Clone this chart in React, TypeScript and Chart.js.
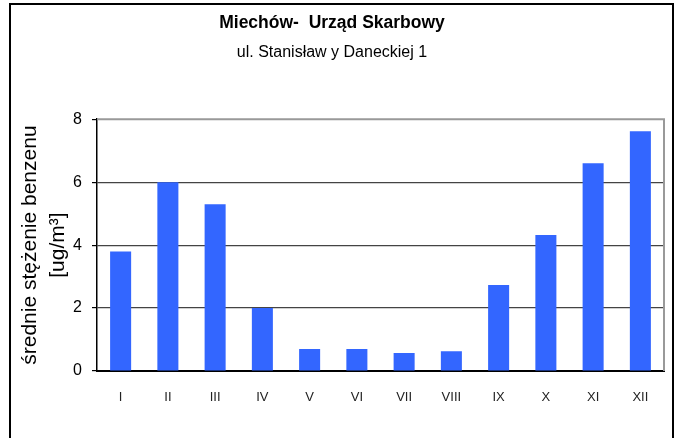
import React, { useEffect, useRef } from "react";
import { Chart, registerables } from "chart.js";

Chart.register(...registerables);

const months = ["I", "II", "III", "IV", "V", "VI", "VII", "VIII", "IX", "X", "XI", "XII"];
const benzene = [3.8, 6.0, 5.3, 2.0, 0.7, 0.7, 0.57, 0.63, 2.73, 4.32, 6.6, 7.62];
const yTicks = [0, 2, 4, 6, 8];
const titleText = "Miechów-  Urząd Skarbowy";
const subtitleText = "ul. Stanisław y Daneckiej 1";
const yTitleLines = ["średnie stężenie benzenu", "[ug/m³]"];

const FONT = "Arial, 'Liberation Sans', sans-serif";

const framePlugin = {
  id: "frame",
  beforeDraw(chart: any) {
    const { ctx, width, height } = chart;
    ctx.save();
    ctx.fillStyle = "#ffffff";
    ctx.fillRect(0, 0, width, height);
    ctx.strokeStyle = "#000000";
    ctx.lineWidth = 2;
    ctx.strokeRect(10, 4, 663, height + 10);
    ctx.restore();
  },
  afterDatasetsDraw(chart: any) {
    const { ctx, chartArea } = chart;
    ctx.save();
    ctx.strokeStyle = "#999999";
    ctx.lineWidth = 2;
    ctx.beginPath();
    ctx.moveTo(chartArea.left, chartArea.top);
    ctx.lineTo(chartArea.right, chartArea.top);
    ctx.lineTo(chartArea.right, chartArea.bottom);
    ctx.stroke();
    ctx.restore();
  },
};

export default function App() {
  const ref = useRef<HTMLCanvasElement | null>(null);

  useEffect(() => {
    document.body.style.margin = "0";
    const canvas = ref.current;
    if (!canvas) return;
    const chart = new Chart(canvas, {
      type: "bar",
      data: {
        labels: months,
        datasets: [
          {
            data: benzene,
            backgroundColor: "#3366FF",
            borderWidth: 0,
            barPercentage: 0.445,
            categoryPercentage: 1,
          },
        ],
      },
      plugins: [framePlugin],
      options: {
        animation: false,
        responsive: false,
        devicePixelRatio: 1,
        layout: { padding: { left: 0, right: 16, top: 0, bottom: 0 } },
        plugins: {
          legend: { display: false },
          tooltip: { enabled: false },
          title: {
            display: true,
            text: titleText,
            color: "#000",
            font: { family: FONT, size: 17.5, weight: "bold", lineHeight: 1.2 },
            padding: { top: 13, bottom: 8 },
          },
          subtitle: {
            display: true,
            text: subtitleText,
            color: "#000",
            font: { family: FONT, size: 16, lineHeight: 1.2 },
            padding: { top: 1, bottom: 57 },
          },
        },
        scales: {
          x: {
            grid: { display: false },
            border: { display: true, color: "#000", width: 2 },
            ticks: {
              color: "#222",
              font: { family: FONT, size: 13 },
              padding: 11,
              maxRotation: 0,
            },
            afterFit(scale: any) {
              scale.height = 67;
            },
          },
          y: {
            min: 0,
            max: 8,
            afterBuildTicks(scale: any) {
              scale.ticks = yTicks.map((v) => ({ value: v }));
            },
            grid: {
              color: (c: any) => (c.tick && c.tick.value === 8 ? "rgba(0,0,0,0)" : "#444444"),
              lineWidth: 1.2,
              tickColor: "#000",
              tickLength: 5,
            },
            border: { display: true, color: "#000", width: 1.5 },
            ticks: {
              color: "#000",
              font: { family: FONT, size: 16 },
              padding: 10,
            },
            title: {
              display: true,
              text: yTitleLines,
              color: "#000",
              font: { family: FONT, size: 21, lineHeight: 1.35 },
              padding: { top: 16, bottom: 0 },
            },
            afterFit(scale: any) {
              scale.width = 97;
            },
          },
        },
      },
    });
    return () => chart.destroy();
  }, []);

  return (
    <div style={{ width: 680, height: 438 }}>
      <canvas ref={ref} width={680} height={438} style={{ display: "block" }} />
    </div>
  );
}
